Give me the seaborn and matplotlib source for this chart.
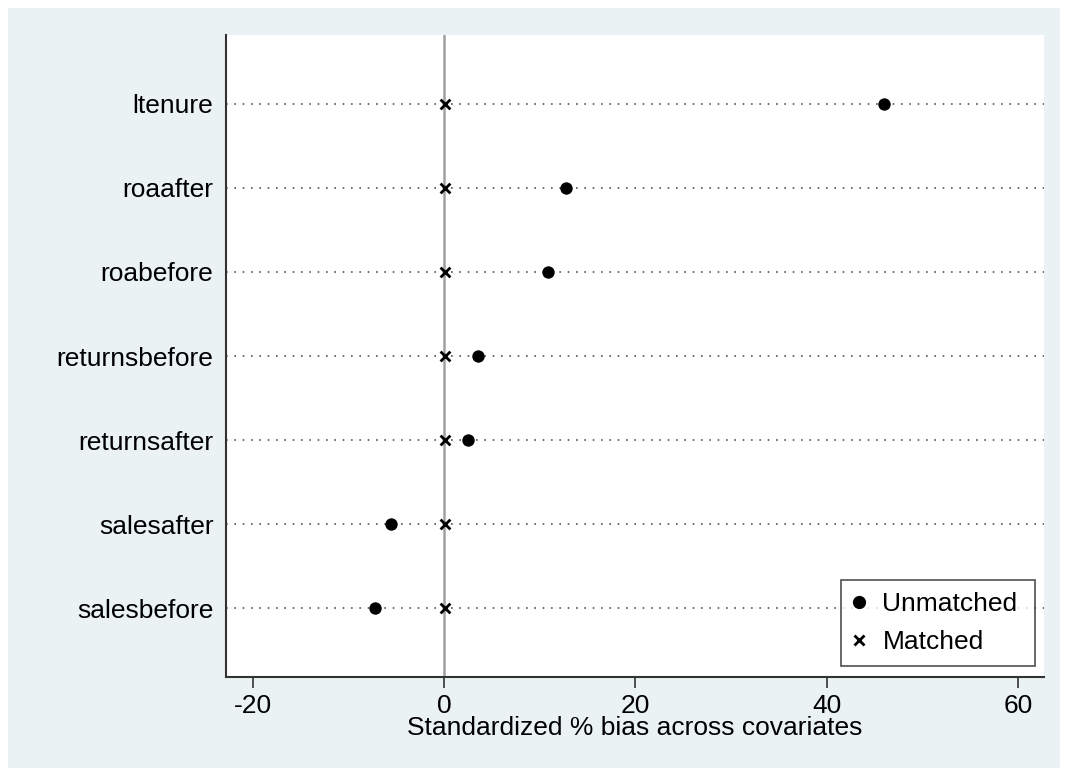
import numpy as np
import pandas as pd
import matplotlib
matplotlib.use("Agg")
import matplotlib.pyplot as plt
from matplotlib.patches import Rectangle
from matplotlib.lines import Line2D
import seaborn as sns

covariates = ["ltenure", "roaafter", "roabefore", "returnsbefore",
              "returnsafter", "salesafter", "salesbefore"]
unmatched = [46.0, 12.7, 10.9, 3.5, 2.5, -5.6, -7.2]
matched = [0.1, 0.1, 0.1, 0.1, 0.1, 0.1, 0.1]
xticks = [-20, 0, 20, 40, 60]

sns.set_style("white")
plt.rcParams['font.family'] = ['Liberation Sans', 'DejaVu Sans']
plt.rcParams['text.color'] = 'black'
plt.rcParams['axes.labelcolor'] = 'black'
plt.rcParams['xtick.color'] = 'black'
plt.rcParams['ytick.color'] = 'black'

df = pd.DataFrame({
    "cov": covariates * 2,
    "pos": list(range(len(covariates))) * 2,
    "bias": unmatched + matched,
    "sample": ["Unmatched"] * len(covariates) + ["Matched"] * len(covariates),
})

bg = "#EAF2F3"
fig = plt.figure(figsize=(10.68, 7.76), dpi=100, facecolor="white")
fig.patches.append(Rectangle((8 / 1068, 8 / 776), 1052 / 1068, 760 / 776,
                             transform=fig.transFigure, facecolor=bg,
                             edgecolor="none", zorder=-10))
ax = fig.add_axes([226 / 1068, 1 - 677 / 776, (1044 - 226) / 1068, (677 - 35) / 776])
ax.set_facecolor("white")

# dotted row guides
for p in range(len(covariates)):
    ax.axhline(p, color="#555555", lw=1.2, ls=(0, (1, 4)), zorder=1)
ax.axvline(0, color="#a0a0a0", lw=1.8, zorder=1)

unm = df[df["sample"] == "Unmatched"]
sub = df[df["sample"] == "Matched"]
sns.scatterplot(data=unm, x="bias", y="pos", marker="o", color="black",
                s=80, linewidth=0, ax=ax, legend=False, zorder=3)
sns.scatterplot(data=sub, x="bias", y="pos", marker="x", color="black",
                s=50, linewidth=2, ax=ax, legend=False, zorder=3)

ax.set_xlim(-22.8, 62.7)
ax.set_ylim(len(covariates) - 1 + 0.82, -0.82)
ax.set_yticks(range(len(covariates)))
ax.set_yticklabels(covariates)
ax.set_xticks(xticks)
ax.set_xticklabels([str(t) for t in xticks])
ax.tick_params(axis="y", length=0, pad=9, labelsize=19)
ax.tick_params(axis="x", length=8, width=1.2, direction="out", color="#333333",
               labelsize=19, pad=4.5, bottom=True)
ax.set_xlabel("Standardized % bias across covariates", fontsize=19, labelpad=-1.5)
ax.set_ylabel("")
for s in ["top", "right"]:
    ax.spines[s].set_visible(False)
for s in ["left", "bottom"]:
    ax.spines[s].set_color("#333333")
    ax.spines[s].set_linewidth(1.5)

handles = [Line2D([], [], ls="none", marker="o", color="black", markersize=8.5),
           Line2D([], [], ls="none", marker="x", color="black", markersize=6.5, mew=2)]
leg = ax.legend(handles, ["Unmatched", "Matched"], loc="lower left",
                bbox_to_anchor=((841 - 226) / 818, 0.017, 194 / 818, 0.1),
                mode="expand", fontsize=19, frameon=True,
                fancybox=False, edgecolor="#222222", handlelength=0.5,
                handletextpad=0.62, borderpad=0.45, labelspacing=0.53,
                borderaxespad=0)
leg.get_frame().set_linewidth(1.2)
leg.set_zorder(5)

fig.savefig("out.png", dpi=100, facecolor=fig.get_facecolor())
